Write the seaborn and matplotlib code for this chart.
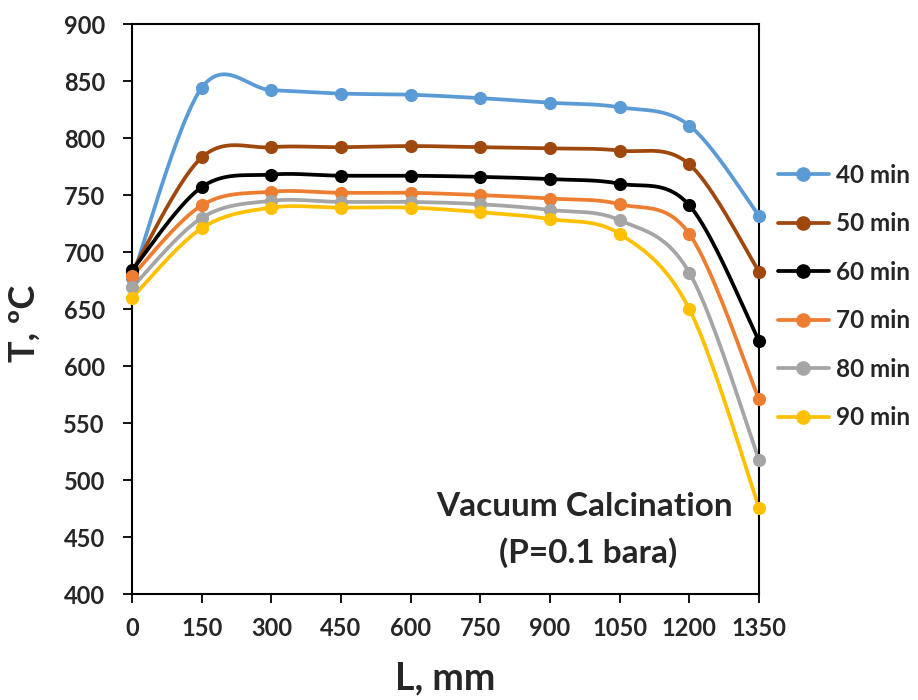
import numpy as np
import pandas as pd
import matplotlib
matplotlib.use("Agg")
import matplotlib.pyplot as plt
from matplotlib.lines import Line2D
import seaborn as sns

# ---- data ----
L_mm = [0, 150, 300, 450, 600, 750, 900, 1050, 1200, 1350]
series_names = ["40 min", "50 min", "60 min", "70 min", "80 min", "90 min"]
T_40 = [677, 844, 842, 839, 838, 835, 831, 827, 811, 732]
T_50 = [683, 783, 792, 792, 793, 792, 791, 789, 777, 683]
T_60 = [684, 757, 768, 767, 767, 766, 764, 760, 741, 622]
T_70 = [679, 741, 753, 752, 752, 750, 747, 742, 716, 571]
T_80 = [669, 730, 745, 744, 744, 742, 737, 728, 682, 518]
T_90 = [660, 721, 739, 739, 739, 735, 729, 716, 650, 476]
series_values = [T_40, T_50, T_60, T_70, T_80, T_90]
colors = ["#5B9BD5", "#9E480E", "#000000", "#ED7D31", "#A5A5A5", "#FFC000"]
x_ticks = [0, 150, 300, 450, 600, 750, 900, 1050, 1200, 1350]
y_ticks = list(range(400, 901, 50))

sns.set_theme(style="white")
plt.rcParams["font.family"] = ["Lato", "DejaVu Sans"]
plt.rcParams["font.weight"] = "bold"

fig = plt.figure(figsize=(9.18, 7.0), dpi=100)
ax = fig.add_axes([0.1438, 0.151, 0.683, 0.8147])

# pixel-ish scales for Excel-like smoothing of the drawn line
sx, sy = 630.0 / 1350.0, 571.0 / 500.0


def smooth(xs, ys, n=40):
    px = np.array(xs, float) * sx
    py = np.array(ys, float) * sy
    P = np.column_stack([px, py])
    P = np.vstack([P[0], P, P[-1]])
    out = []
    for i in range(1, len(P) - 2):
        p0, p1, p2, p3 = P[i - 1], P[i], P[i + 1], P[i + 2]
        c1 = p1 + (p2 - p0) / 6.0
        c2 = p2 - (p3 - p1) / 6.0
        t = np.linspace(0, 1, n)[:, None]
        seg = ((1 - t) ** 3) * p1 + 3 * ((1 - t) ** 2) * t * c1 + 3 * (1 - t) * t ** 2 * c2 + t ** 3 * p2
        out.append(seg if i == 1 else seg[1:])
    out = np.vstack(out)
    return out[:, 0] / sx, out[:, 1] / sy


handles = []
for name, vals, col in zip(series_names, series_values, colors):
    cx, cy = smooth(L_mm, vals)
    df_line = pd.DataFrame({"L": cx, "T": cy})
    sns.lineplot(data=df_line, x="L", y="T", sort=False, color=col, lw=2.7, ax=ax,
                 estimator=None)
    df_pts = pd.DataFrame({"L": L_mm, "T": vals})
    sns.scatterplot(data=df_pts, x="L", y="T", color=col, s=90, edgecolor=col,
                    linewidth=0, ax=ax, zorder=5, clip_on=False)
    handles.append(Line2D([0], [0], color=col, lw=2.7, marker="o", markersize=9.5))

ax.set_xlim(0, 1350)
ax.set_ylim(400, 900)
ax.set_xticks(x_ticks)
ax.set_yticks(y_ticks)
ax.tick_params(axis="both", which="major", direction="out", length=6.5, width=1.3,
               color="black", labelsize=17, bottom=True, left=True)
ax.tick_params(axis="x", pad=10)
ax.tick_params(axis="y", pad=13)
for lab in ax.get_xticklabels() + ax.get_yticklabels():
    lab.set_fontweight("bold")
for sp in ax.spines.values():
    sp.set_visible(True)
    sp.set_color("black")
    sp.set_linewidth(1.5)

ax.set_xlabel("L, mm", fontsize=27, fontweight="bold")
ax.set_ylabel("T, ºC", fontsize=26, fontweight="bold")
ax.xaxis.set_label_coords(0.5, -0.118)
ax.yaxis.set_label_coords(-0.146, 0.475)

ax.text(0.721, 0.154, "Vacuum Calcination", transform=ax.transAxes, fontsize=24,
        fontweight="bold", ha="center", va="center")
ax.text(0.727, 0.073, "(P=0.1 bara)", transform=ax.transAxes, fontsize=24,
        fontweight="bold", ha="center", va="center")

leg = ax.legend(handles, series_names, loc="center left", bbox_to_anchor=(1.03, 0.522),
                frameon=False, fontsize=17.5, handlelength=2.1, labelspacing=1.05,
                handletextpad=0.3, borderaxespad=0, borderpad=0)
for t in leg.get_texts():
    t.set_fontweight("bold")

fig.savefig("out.png", dpi=100)
